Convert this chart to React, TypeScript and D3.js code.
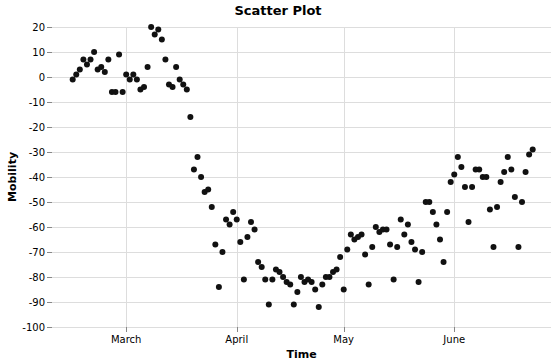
import React, { useEffect } from "react";
import * as d3 from "d3";

// Daily mobility values (2020), each array starts at the given day of its month
const febStart = 15;
const febValues = [-1, 1, 3, 7, 5, 7, 10, 3, 4, 2, 7, -6, -6, 9, -6];
const marValues = [1, -1, 1, -1, -5, -4, 4, 20, 17, 19, 15, 7, -3, -4, 4, -1, -3, -5, -16, -37, -32, -40, -46, -45, -52, -67, -84, -70, -57, -59, -54];
const aprValues = [-57, -66, -81, -64, -58, -61, -74, -76, -81, -91, -81, -77, -78, -80, -82, -83, -91, -86, -80, -82, -81, -82, -85, -92, -83, -80, -80, -78, -77, -72];
const mayValues = [-85, -69, -63, -65, -64, -63, -71, -83, -68, -60, -62, -61, -61, -67, -81, -68, -57, -63, -59, -66, -69, -82, -70, -50, -50, -54, -59, -65, -74, -54, -42];
const junValues = [-39, -32, -36, -44, -58, -44, -37, -37, -40, -40, -53, -68, -52, -42, -38, -32, -37, -48, -68, -50, -38, -31, -29];

const yTicks = [20, 10, 0, -10, -20, -30, -40, -50, -60, -70, -80, -90, -100];
const xTickLabels = ["March", "April", "May", "June"];
const xTickMonths = [2, 3, 4, 5];

const monthSeries: [number, number, number[]][] = [
  [1, febStart, febValues],
  [2, 1, marValues],
  [3, 1, aprValues],
  [4, 1, mayValues],
  [5, 1, junValues],
];

const data = monthSeries.flatMap(([m, start, vals]) =>
  vals.map((v, i) => ({ date: new Date(2020, m, start + i), value: v }))
);

const W = 556;
const H = 364;
const plotL = 52;
const plotR = 551;
const plotT = 27;
const plotB = 327;
const FONT = "DejaVu Sans, sans-serif";

export default function App() {
  useEffect(() => {
    document.body.style.margin = "0";
  }, []);

  const ext = d3.extent(data, (d) => d.date) as [Date, Date];
  const x = d3.scaleTime().domain(ext).range([plotL + 20.7, plotR - 18.3]);
  const y = d3.scaleLinear().domain([-100, 20]).range([plotB, plotT]);

  const xTicks = xTickMonths.map((m) => new Date(2020, m, 1));

  return (
    <svg width={W} height={H} style={{ display: "block", position: "absolute", left: 0, top: 0 }} fontFamily={FONT}>
      <rect width={W} height={H} fill="#fff" />
      {/* horizontal grid */}
      {yTicks.map((t) => (
        <line key={"gy" + t} x1={plotL} x2={plotR} y1={y(t) + 0.5} y2={y(t) + 0.5} stroke="#ddd" />
      ))}
      {/* vertical grid */}
      {xTicks.map((d, i) => (
        <line key={"gx" + i} x1={Math.round(x(d)) + 0.5} x2={Math.round(x(d)) + 0.5} y1={plotT} y2={plotB} stroke="#ddd" />
      ))}
      {/* y ticks and labels */}
      {yTicks.map((t) => (
        <g key={"ty" + t}>
          <line x1={plotL - 5} x2={plotL} y1={y(t) + 0.5} y2={y(t) + 0.5} stroke="#888" />
          <text x={plotL - 7} y={y(t) + 0.5} textAnchor="end" dominantBaseline="middle" fontSize={10} fill="#000">
            {t}
          </text>
        </g>
      ))}
      {/* x ticks and labels */}
      {xTicks.map((d, i) => (
        <g key={"tx" + i}>
          <line x1={Math.round(x(d)) + 0.5} x2={Math.round(x(d)) + 0.5} y1={plotB} y2={plotB + 5} stroke="#888" />
          <text x={x(d)} y={plotB + 16} textAnchor="middle" fontSize={10} fill="#000">
            {xTickLabels[i]}
          </text>
        </g>
      ))}
      {/* points */}
      {data.map((d, i) => (
        <circle key={i} cx={x(d.date)} cy={y(d.value)} r={3} fill="#111" />
      ))}
      {/* titles */}
      <text x={W / 2} y={15} textAnchor="middle" fontSize={13} fontWeight="bold" fill="#000">
        Scatter Plot
      </text>
      <text x={(plotL + plotR) / 2} y={358} textAnchor="middle" fontSize={11} fontWeight="bold" fill="#000">
        Time
      </text>
      <text transform={`translate(16, ${(plotT + plotB) / 2}) rotate(-90)`} textAnchor="middle" fontSize={11} fontWeight="bold" fill="#000">
        Mobility
      </text>
    </svg>
  );
}
